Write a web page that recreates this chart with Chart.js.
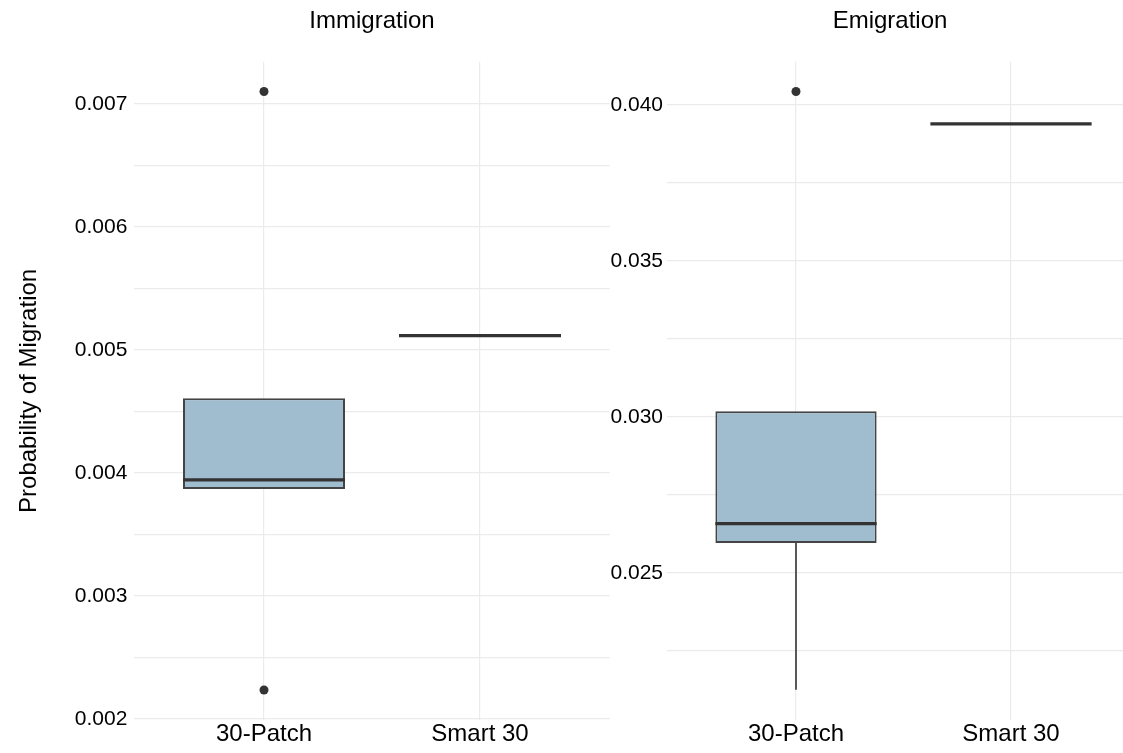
<!DOCTYPE html>
<html><head><meta charset="utf-8">
<script src="https://cdn.jsdelivr.net/npm/chart.js@4.4.1/dist/chart.umd.min.js"></script>
<style>
html,body{margin:0;padding:0;background:#fff;overflow:hidden;width:1123px;height:753px;position:relative}
canvas{position:absolute;top:0}
#c1{left:0;width:744px;height:753px}
#c2{left:610px;width:560px;height:753px;background:#fff}
</style></head><body>
<canvas id="c1" width="744" height="753"></canvas>
<canvas id="c2" width="560" height="753"></canvas>
<script>
// ---------- data ----------
const categories = ['30-Patch', 'Smart 30'];

// Immigration panel
const immQ1 = [0.00387, 0.005116];
const immMedian = [0.003943, 0.005116];
const immQ3 = [0.004607, 0.005116];
const immWhiskerLow = [0.00387, 0.005116];
const immWhiskerHigh = [0.004607, 0.005116];
const immOutliers = [[0.002236, 0.0071], []];
const immMajorTicks = [0.002, 0.003, 0.004, 0.005, 0.006, 0.007];
const immMinorTicks = [0.0025, 0.0035, 0.0045, 0.0055, 0.0065];
const immTickLabels = ['0.002', '0.003', '0.004', '0.005', '0.006', '0.007'];
const immRange = [0.001992, 0.0073415];

// Emigration panel
const emiQ1 = [0.02596, 0.039391];
const emiMedian = [0.02658, 0.039391];
const emiQ3 = [0.030183, 0.039391];
const emiWhiskerLow = [0.02126, 0.039391];
const emiWhiskerHigh = [0.030183, 0.039391];
const emiOutliers = [[0.040426], []];
const emiMajorTicks = [0.025, 0.030, 0.035, 0.040];
const emiMinorTicks = [0.0225, 0.0275, 0.0325, 0.0375];
const emiTickLabels = ['0.025', '0.030', '0.035', '0.040'];
const emiRange = [0.020288, 0.041378];

const panelTitles = ['Immigration', 'Emigration'];
const yAxisTitle = 'Probability of Migration';

// ---------- chart building ----------
const FONT = "'Liberation Sans', Arial, Helvetica, sans-serif";
Chart.defaults.font.family = FONT;
Chart.defaults.color = '#000';

const BOX_WIDTH = 0.75;
const BOX_FILL = 'rgb(160,189,208)';
const DARK = '#333333';
const GRID = '#ebebeb';

function buildChart(canvasId, title, d, o) {
  const boxes = categories.map((c, i) => ({ x: i + 1, y: [d.q1[i], d.q3[i]] }));
  const medSeg = [];
  const whiskSeg = [];
  const outPts = [];
  categories.forEach((c, i) => {
    const x = i + 1;
    medSeg.push({ x: x - BOX_WIDTH / 2, y: d.med[i] }, { x: x + BOX_WIDTH / 2, y: d.med[i] }, { x: x + 0.5, y: null });
    whiskSeg.push({ x: x, y: d.q1[i] }, { x: x, y: d.lo[i] }, { x: x + 0.3, y: null });
    whiskSeg.push({ x: x, y: d.q3[i] }, { x: x, y: d.hi[i] }, { x: x + 0.4, y: null });
    d.out[i].forEach(v => outPts.push({ x: x, y: v }));
  });
  const gridVals = d.major.concat(d.minor).sort((a, b) => a - b);

  return new Chart(document.getElementById(canvasId), {
    type: 'scatter',
    data: {
      datasets: [
        { type: 'scatter', data: outPts, pointRadius: 4.5, pointHoverRadius: 4.5,
          pointBackgroundColor: DARK, pointBorderWidth: 0, order: 0 },
        { type: 'line', data: medSeg, borderColor: DARK, borderWidth: 3.2, pointRadius: 0,
          spanGaps: false, borderCapStyle: 'butt', order: 1 },
        { type: 'bar', data: boxes, backgroundColor: BOX_FILL, borderColor: '#444444',
          borderWidth: 2, borderSkipped: false, barPercentage: BOX_WIDTH,
          categoryPercentage: 1, order: 2 },
        { type: 'line', data: whiskSeg, borderColor: DARK, borderWidth: 1.6, pointRadius: 0,
          spanGaps: false, order: 3 }
      ]
    },
    options: {
      responsive: false,
      animation: false,
      events: [],
      layout: { padding: 0 },
      plugins: {
        legend: { display: false },
        tooltip: { enabled: false },
        title: {
          display: true, text: title, color: '#000',
          font: { size: 24, weight: 'normal', family: FONT },
          padding: { top: 7, bottom: 26 }
        }
      },
      scales: {
        x: {
          type: 'linear', min: 0.4, max: 2.6, offset: false,
          afterBuildTicks: s => { s.ticks = categories.map((c, i) => ({ value: i + 1 })); },
          afterFit: s => { s.height = 33; },
          ticks: {
            autoSkip: false, maxRotation: 0, padding: 0, color: '#000',
            font: { size: 24, family: FONT },
            callback: v => categories[Math.round(v) - 1]
          },
          grid: { color: GRID, lineWidth: 1.2, drawTicks: false, offset: false },
          border: { display: false }
        },
        y: {
          type: 'linear', position: 'left', min: d.range[0], max: d.range[1],
          afterBuildTicks: s => { s.ticks = gridVals.map(v => ({ value: v })); },
          afterFit: s => { s.width = o.yWidth; },
          ticks: {
            padding: o.tickPad, color: '#000',
            font: { size: 21, family: FONT },
            callback: v => {
              const k = d.major.findIndex(m => Math.abs(m - v) < 1e-9);
              return k >= 0 ? d.labels[k] : '';
            }
          },
          grid: { color: GRID, lineWidth: 1.2, drawTicks: false },
          border: { display: false },
          title: {
            display: !!o.yTitle, text: o.yTitle || '', color: '#000',
            font: { size: 24, family: FONT },
            padding: { top: 15, bottom: 0 }
          }
        },
        // empty spacer on the right so the panel ends where the reference panel ends
        spacer: {
          type: 'linear', position: 'right', display: true,
          afterFit: s => { s.width = o.padRight; },
          ticks: { display: false },
          grid: { display: false, drawTicks: false },
          border: { display: false }
        }
      }
    }
  });
}

buildChart('c1', panelTitles[0], {
  q1: immQ1, med: immMedian, q3: immQ3, lo: immWhiskerLow, hi: immWhiskerHigh,
  out: immOutliers, major: immMajorTicks, minor: immMinorTicks, labels: immTickLabels, range: immRange
}, { yWidth: 134.4, padRight: 134.4, tickPad: 7, yTitle: yAxisTitle });

buildChart('c2', panelTitles[1], {
  q1: emiQ1, med: emiMedian, q3: emiQ3, lo: emiWhiskerLow, hi: emiWhiskerHigh,
  out: emiOutliers, major: emiMajorTicks, minor: emiMinorTicks, labels: emiTickLabels, range: emiRange
}, { yWidth: 57, padRight: 30, tickPad: 4, yTitle: null });
</script>
</body></html>
